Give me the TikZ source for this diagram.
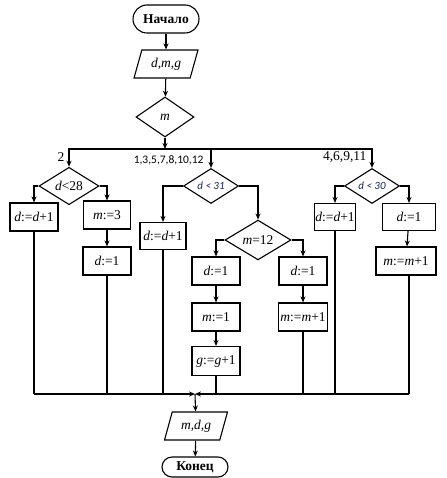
\documentclass[tikz,border=0pt]{standalone}
\usepackage{fontspec}
\setmainfont{Liberation Serif}
\newfontfamily\calib{Carlito}
\usetikzlibrary{arrows.meta, shapes.geometric}
\definecolor{navytext}{RGB}{25,35,95}

\begin{document}
\begin{tikzpicture}[x=1pt, y=-1pt,
		line width=1.1pt,
		term/.style={draw, rounded corners=14pt, minimum width=66pt, minimum height=28pt,
			inner sep=1pt, font=\fontsize{13.5}{15}\selectfont\bfseries},
		io/.style={draw, trapezium, trapezium left angle=70, trapezium right angle=110,
			trapezium stretches=true, minimum width=64pt, minimum height=28pt,
			inner sep=1pt, font=\fontsize{13.5}{15}\selectfont\itshape},
		cond/.style={draw, diamond, inner sep=0pt, font=\fontsize{13.5}{15}\selectfont},
		sans/.style={font=\calib\itshape\fontsize{11}{13}\selectfont, text=navytext},
		act/.style={draw, minimum width=48pt, minimum height=28pt, inner sep=1pt,
			font=\fontsize{13.5}{15}\selectfont},
		case/.style={anchor=east, inner sep=1pt, font=\fontsize{13.5}{15}\selectfont},
		arrow/.style={-{Stealth[length=6pt, width=5pt]}}
	]
		\useasboundingbox (0,0) rectangle (446,478);

		\node[term] (start) at (166,19) {Начало};
		\node[io] (input) at (166,64) {d,m,g};
		\node[cond, minimum width=58pt, minimum height=40pt] (month) at (165,117) {\textit{m}};
		\coordinate (split) at (165,149);

		% three groups of months
		\node[cond, minimum width=60pt, minimum height=34pt] (feb) at (69,186) {\textit{d}<28};
		\node[cond, sans, minimum width=55pt, minimum height=35pt] (long) at (211,186) {d < 31};
		\node[cond, sans, minimum width=55pt, minimum height=34pt] (short) at (372,186) {d < 30};
		\node[case] (lblfeb) at (66,157) {2};
		\node[case, font=\calib\fontsize{11.5}{13}\selectfont] (lbllong) at (205,160) {1,3,5,7,8,10,12};
		\node[case] (lblshort) at (368,157) {4,6,9,11};

		\node[act] (febinc) at (34,217) {\textit{d}:=\textit{d}+1};
		\node[act, minimum width=47pt] (febm) at (107,215) {\textit{m}:=3};
		\node[act] (febd) at (107,261) {\textit{d}:=1};

		\node[act, minimum width=46pt, minimum height=27pt] (longinc) at (163,236) {\textit{d}:=\textit{d}+1};
		\node[cond, minimum width=66pt, minimum height=36pt] (dec) at (258,240) {\textit{m}=12};
		\node[act] (decd) at (216,271) {\textit{d}:=1};
		\node[act] (decm) at (216,317) {\textit{m}:=1};
		\node[act, minimum height=29pt] (decg) at (216,361) {\textit{g}:=\textit{g}+1};
		\node[act] (nextd) at (303,271) {\textit{d}:=1};
		\node[act, minimum width=49pt] (nextm) at (303,317) {\textit{m}:=\textit{m}+1};

		\node[act, minimum width=41pt, minimum height=27pt] (shortinc) at (335,217) {\textit{d}:=\textit{d}+1};
		\node[act, minimum width=53pt, minimum height=27pt] (shortd) at (409,217) {\textit{d}:=1};
		\node[act, minimum width=60pt] (shortm) at (406,261) {\textit{m}:=\textit{m}+1};

		\coordinate (join) at (195,394);
		\node[io, minimum width=63pt] (output) at (196,426) {m,d,g};
		\node[term, minimum height=20pt, rounded corners=10pt] (stop) at (195,467) {Конец};

		\draw[arrow] (start) -- (input);
		\draw[arrow] (input) -- (month);
		\draw[arrow] (month) -- (split);
		\draw[arrow] (split) -| (feb.north);
		\draw[arrow] (split) -| (short.north);
		\draw[arrow] (split -| long.north) -- (long.north);

		\draw[arrow] (feb.west) -| (febinc.north);
		\draw[arrow] (feb.east) -| (febm.north);
		\draw[arrow] (long.west) -| (longinc.north);
		\draw[arrow] (long.east) -| (dec.north);
		\draw[arrow] (dec.west) -| (decd.north);
		\draw[arrow] (dec.east) -| (nextd.north);
		\draw[arrow] (short.west) -| (shortinc.north);
		\draw[arrow] (short.east) -| (shortd.north);
		\foreach \a/\b in {febm/febd,decd/decm,decm/decg,nextd/nextm,shortd/shortm}
			\draw[arrow] (\a) -- (\b);

		\foreach \b in {febinc,febd,longinc,decg,nextm,shortinc}
			\draw (\b.south) -- (\b.south |- join);
		\draw (shortm.south -| shortd.south) -- (shortd.south |- join);
		\draw[arrow] (febinc.south |- join) -- (join);
		\draw[arrow] (shortd.south |- join) -- (join);
		\draw[arrow] (join) -- (output);
		\draw[arrow] (output) -- (stop);
	\end{tikzpicture}
\end{document}
